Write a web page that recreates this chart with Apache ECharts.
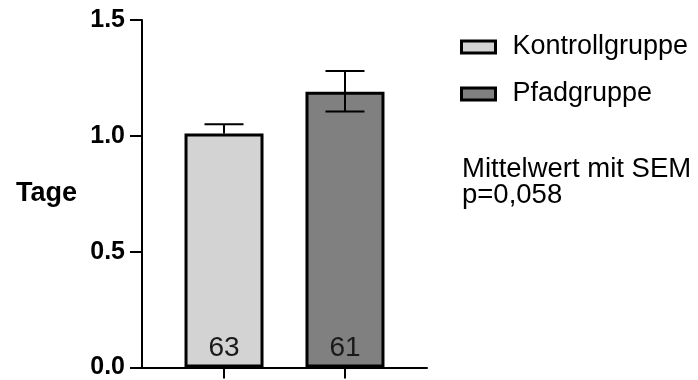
<!DOCTYPE html>
<html>
<head>
<meta charset="utf-8">
<script src="https://cdn.jsdelivr.net/npm/echarts@6/dist/echarts.min.js"></script>
<style>html,body{margin:0;padding:0;background:#fff}#c{width:698px;height:380px}</style>
</head>
<body>
<div id="c"></div>
<script>
const categories = ['Kontrollgruppe', 'Pfadgruppe'];
const means = [1.01, 1.19];
const errUpper = [1.05, 1.28];
const errLower = [null, 1.105];
const nValues = [63, 61];
const barColors = ['#d3d3d3', '#808080'];
const yTicks = [0, 0.5, 1.0, 1.5];
const notes = ['Mittelwert mit SEM', 'p=0,058'];

const chart = echarts.init(document.getElementById('c'));
const FONT = '"Liberation Sans", Arial, sans-serif';

const barSeries = categories.map((name, i) => ({
  name: name,
  type: 'bar',
  barWidth: 79,
  barGap: '-100%',
  data: [[i, means[i]]],
  itemStyle: { color: barColors[i], borderColor: '#000', borderWidth: 3 },
  label: {
    show: true, position: 'insideBottom', distance: 5,
    formatter: () => String(nValues[i]),
    fontFamily: FONT, fontSize: 28, color: '#1a1a1a'
  },
  z: 2
}));

const errSeries = {
  type: 'custom',
  data: categories.map((c, i) => [i, means[i], errLower[i] == null ? means[i] : errLower[i], errUpper[i]]),
  renderItem: function (params, api) {
    const x = api.value(0);
    const pMean = api.coord([x, api.value(1)]);
    const pLow = api.coord([x, api.value(2)]);
    const pHigh = api.coord([x, api.value(3)]);
    const half = 19.5;
    const style = { stroke: '#000', lineWidth: 2 };
    const children = [
      { type: 'line', shape: { x1: pHigh[0], y1: pHigh[1], x2: pLow[0], y2: Math.max(pLow[1], pMean[1]) }, style: style },
      { type: 'line', shape: { x1: pHigh[0] - half, y1: pHigh[1], x2: pHigh[0] + half, y2: pHigh[1] }, style: style }
    ];
    if (api.value(2) < api.value(1)) {
      children.push({ type: 'line', shape: { x1: pLow[0] - half, y1: pLow[1], x2: pLow[0] + half, y2: pLow[1] }, style: style });
    }
    return { type: 'group', children: children };
  },
  z: 5,
  silent: true
};

chart.setOption({
  animation: false,
  backgroundColor: '#fff',
  grid: { left: 142, right: 271, top: 20, bottom: 11 },
  xAxis: {
    type: 'value', min: -0.678, max: 1.678,
    axisLine: { show: true, onZero: false, lineStyle: { color: '#000', width: 2 } },
    axisTick: { show: true, customValues: [0, 1], length: 11, lineStyle: { color: '#000', width: 2 } },
    axisLabel: { show: false },
    splitLine: { show: false }
  },
  yAxis: {
    type: 'value', min: 0, max: 1.5, interval: 0.5,
    name: 'Tage', nameLocation: 'middle', nameRotate: 0, nameGap: 65,
    nameTextStyle: { fontFamily: FONT, fontSize: 27, fontWeight: 'bold', color: '#000', align: 'right', verticalAlign: 'middle', padding: [4, 0, 0, 0] },
    axisLine: { show: true, onZero: false, lineStyle: { color: '#000', width: 2 } },
    axisTick: { show: true, length: 12, lineStyle: { color: '#000', width: 2 } },
    axisLabel: {
      margin: 17, fontFamily: FONT, fontSize: 25, fontWeight: 'bold', color: '#000',
      formatter: v => yTicks.indexOf(v) >= 0 ? v.toFixed(1) : ''
    },
    splitLine: { show: false }
  },
  legend: {
    orient: 'vertical', left: 455, top: 27, itemWidth: 34, itemHeight: 12, itemGap: 17,
    icon: 'rect',
    itemStyle: { borderColor: '#000', borderWidth: 3 },
    textStyle: { fontFamily: FONT, fontSize: 27, color: '#000', lineHeight: 30, padding: [0, 0, 0, 12] },
    data: categories
  },
  graphic: notes.map((t, i) => ({
    type: 'text', left: 462, top: 155 + i * 26,
    style: { text: t, fontFamily: FONT, fontSize: 27.5, fill: '#000' }
  })),
  series: barSeries.concat([errSeries])
});
</script>
</body>
</html>
